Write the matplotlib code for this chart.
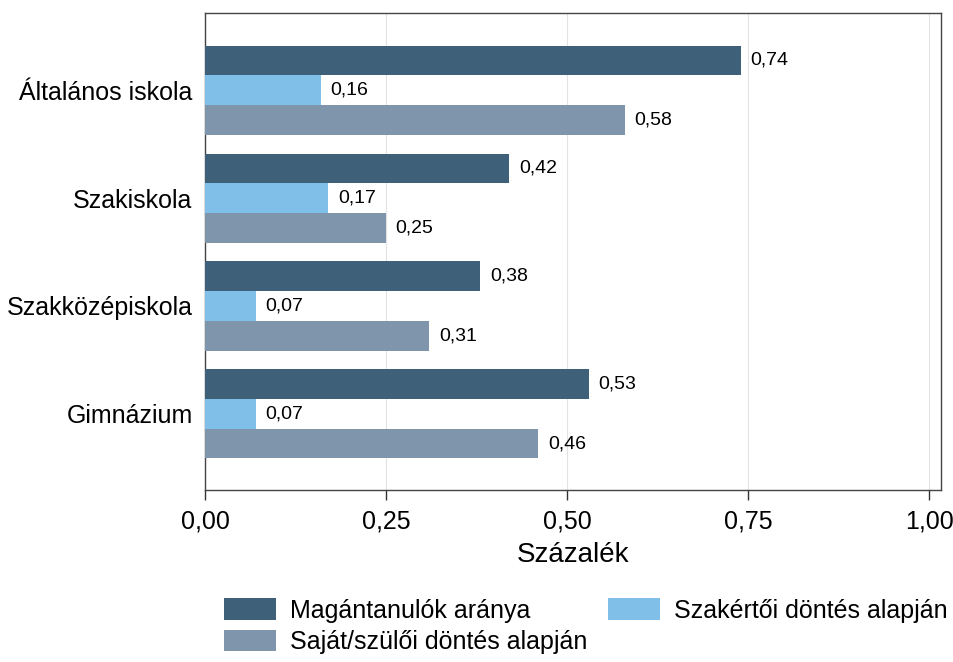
import matplotlib
matplotlib.use("Agg")
import matplotlib.pyplot as plt
import numpy as np

plt.rcParams['font.family'] = ['Liberation Sans', 'DejaVu Sans']

categories = ["Általános iskola", "Szakiskola", "Szakközépiskola", "Gimnázium"]
series_names = ["Magántanulók aránya", "Szakértői döntés alapján", "Saját/szülői döntés alapján"]
magan = [0.74, 0.42, 0.38, 0.53]
szakertoi = [0.16, 0.17, 0.07, 0.07]
sajat = [0.58, 0.25, 0.31, 0.46]
colors = ["#3e6079", "#7fbfe8", "#7f95ab"]
xticks = [0.0, 0.25, 0.5, 0.75, 1.0]

fig = plt.figure(figsize=(9.54, 6.62), dpi=100)
ax = fig.add_axes([0.2149, 0.2598, 0.9864 - 0.2149, 0.9804 - 0.2598])

y = np.arange(len(categories))
h = 0.275
offsets = [-h, 0, h]
bars = []
for vals, off, c, name in zip([magan, szakertoi, sajat], offsets, colors, series_names):
    b = ax.barh(y + off, vals, height=h, color=c, label=name, zorder=3)
    bars.append(b)
    for yi, v in zip(y, vals):
        ax.annotate(f"{v:.2f}".replace(".", ","), xy=(v, yi + off), xytext=(7, 0),
                    textcoords="offset points", va="center", ha="left", fontsize=14, zorder=4)

ax.set_xlim(0, 1.0166)
ax.set_ylim(len(categories) - 1 + 0.705, -0.715)
ax.set_yticks(y)
ax.set_yticklabels(categories, fontsize=18, va='center_baseline')
ax.tick_params(axis='y', length=0, pad=9)
ax.set_xticks(xticks)
ax.set_xticklabels([f"{t:.2f}".replace(".", ",") for t in xticks], fontsize=18)
ax.tick_params(axis='x', length=7, width=1, direction='out', color='#333333', pad=7)
ax.set_xlabel("Százalék", fontsize=20, labelpad=6)
ax.grid(axis='x', color='#e3e3e3', linewidth=0.8, zorder=0)
for s in ax.spines.values():
    s.set_color('#444444')
    s.set_linewidth(1.0)

handles = [bars[0], bars[2], bars[1]]
labels = [series_names[0], series_names[2], series_names[1]]
fig.legend(handles, labels, ncol=2, loc='upper left', bbox_to_anchor=(0.2348, 0.096),
           frameon=False, fontsize=18, handlelength=2.1, handleheight=0.92,
           handletextpad=0.55, columnspacing=0.8, labelspacing=0.3, borderaxespad=0,
           borderpad=0)

fig.savefig("out.png", dpi=100)
